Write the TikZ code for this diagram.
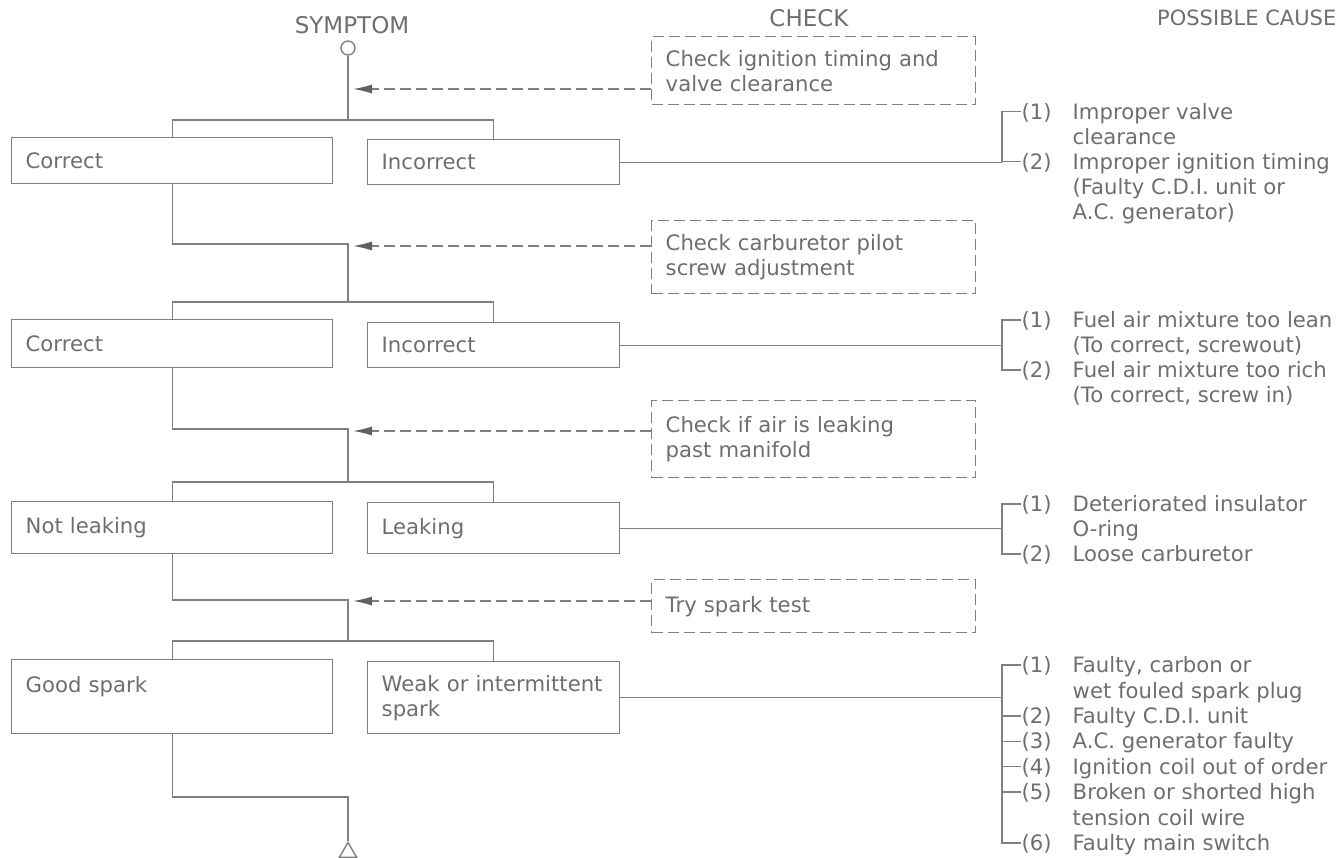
\documentclass[tikz,border=0pt]{standalone}
\usepackage{fontspec}
\setmainfont{DejaVu Sans}
\usetikzlibrary{arrows.meta,shapes.geometric}
\definecolor{ink}{gray}{0.50}
\definecolor{txt}{gray}{0.43}
\definecolor{tip}{gray}{0.38}
\newcommand\bodyfont{\fontsize{21.2}{25}\selectfont}
\newcommand\headfont{\fontsize{23}{27}\selectfont}
\hyphenpenalty=10000
\exhyphenpenalty=10000
\begin{document}
\begin{tikzpicture}[x=1pt,y=-1pt,line width=1.4pt,color=ink,
  every node/.style={text=txt,font=\bodyfont},
  sbox/.style={draw=ink,rectangle,inner xsep=14pt,inner ysep=0pt,align=left,anchor=north west},
  cbox/.style={draw=ink,rectangle,dash pattern=on 11pt off 5pt,inner xsep=14pt,inner ysep=0pt,align=left,anchor=north west,text width=296pt},
  ln/.style={inner sep=0pt,text height=15.4pt,text depth=0pt,anchor=west},
  head/.style={font=\headfont,inner sep=0pt},
  dconn/.style={draw=ink,dash pattern=on 11pt off 5pt,-{Latex[length=19pt,width=9pt,color=tip]}}
]
\useasboundingbox (0,0) rectangle (1341,857);

% headers
\node[head] (hs) at (352,25) {SYMPTOM};
\node[head] (hc) at (809,18) {CHECK};
\node[head,font=\fontsize{21}{25}\selectfont,anchor=east] (hp) at (1337,18) {POSSIBLE CAUSE};

% symptom start
\node[draw=ink,circle,minimum size=14pt,inner sep=0pt] (sym) at (348,48) {};

% coordinates on the main line
\coordinate (b1) at (348,120);
\coordinate (m1) at (348,244);
\coordinate (b2) at (348,302);
\coordinate (m2) at (348,429);
\coordinate (b3) at (348,482);
\coordinate (m3) at (348,600);
\coordinate (b4) at (348,641);
\coordinate (m4) at (348,797);

\coordinate (a1) at (353,89);
\coordinate (a2) at (353,246);
\coordinate (a3) at (353,431);
\coordinate (a4) at (353,601);

% result boxes
\node[sbox,text width=293pt,minimum height=46pt] (c1) at (11,137) {Correct};
\node[sbox,text width=224pt,minimum height=45pt] (i1) at (367,139) {Incorrect};
\node[sbox,text width=293pt,minimum height=48pt] (c2) at (11,319) {Correct};
\node[sbox,text width=224pt,minimum height=45pt] (i2) at (367,322) {Incorrect};
\node[sbox,text width=293pt,minimum height=52pt] (c3) at (11,501) {Not leaking};
\node[sbox,text width=224pt,minimum height=51pt] (i3) at (367,502) {Leaking};
\node[sbox,text width=293pt,minimum height=74pt] (c4) at (11,659) {Good spark\\\mbox{}};
\node[sbox,text width=224pt,minimum height=72pt] (i4) at (367,661) {Weak or intermittent\\spark};

% check boxes
\node[cbox,minimum height=68pt] (k1) at (651,36) {Check ignition timing and\\valve clearance};
\node[cbox,minimum height=73pt] (k2) at (651,220) {Check carburetor pilot\\screw adjustment};
\node[cbox,minimum height=77pt] (k3) at (651,400) {Check if air is leaking\\past manifold};
\node[cbox,minimum height=53pt] (k4) at (651,579) {Try spark test};

% end triangle
\node[draw=ink,regular polygon,regular polygon sides=3,minimum size=20pt,inner sep=0pt,anchor=corner 1] (endt) at (348,841) {};

% main flow
\draw (sym) -- (b1);
\draw (c1.north) |- (b1) -| (i1.north);
\draw (c1.south) |- (m1) -- (b2);
\draw (c2.north) |- (b2) -| (i2.north);
\draw (c2.south) |- (m2) -- (b3);
\draw (c3.north) |- (b3) -| (i3.north);
\draw (c3.south) |- (m3) -- (b4);
\draw (c4.north) |- (b4) -| (i4.north);
\draw (c4.south) |- (m4) -- (endt.corner 1);

% check arrows
\draw[dconn] (a1 -| k1.west) -- (a1);
\draw[dconn] (a2 -| k2.west) -- (a2);
\draw[dconn] (a3 -| k3.west) -- (a3);
\draw[dconn] (a4 -| k4.west) -- (a4);

% causes, section 1
\node[ln] (p11) at (1021,111.5) {(1)};
\node[ln] (t11) at (1072,111.5) {Improper valve};
\node[ln] (t12) at (1072,136.5) {clearance};
\node[ln] (p12) at (1021,161.5) {(2)};
\node[ln] (t13) at (1072,161.5) {Improper ignition timing};
\node[ln] (t14) at (1072,186.5) {(Faulty C.D.I. unit or};
\node[ln] (t15) at (1072,211.5) {A.C. generator)};
\coordinate (q1) at (1002,161.5);
\draw (p11.west) -| (q1) -- (p12.west);
\draw (i1.east) -- (i1.east -| q1);

% causes, section 2
\node[ln] (p21) at (1021,320) {(1)};
\node[ln] (t21) at (1072,320) {Fuel air mixture too lean};
\node[ln] (t22) at (1072,345) {(To correct, screwout)};
\node[ln] (p22) at (1021,370) {(2)};
\node[ln] (t23) at (1072,370) {Fuel air mixture too rich};
\node[ln] (t24) at (1072,395) {(To correct, screw in)};
\coordinate (q2) at (1002,370);
\draw (p21.west) -| (q2) -- (p22.west);
\draw (i2.east) -- (i2.east -| q2);

% causes, section 3
\node[ln] (p31) at (1021,504) {(1)};
\node[ln] (t31) at (1072,504) {Deteriorated insulator};
\node[ln] (t32) at (1072,529) {O-ring};
\node[ln] (p32) at (1021,554) {(2)};
\node[ln] (t33) at (1072,554) {Loose carburetor};
\coordinate (q3) at (1002,554);
\draw (p31.west) -| (q3) -- (p32.west);
\draw (i3.east) -- (i3.east -| q3);

% causes, section 4
\node[ln] (p41) at (1021,665) {(1)};
\node[ln] (t41) at (1072,665) {Faulty, carbon or};
\node[ln] (t42) at (1072,690.4) {wet fouled spark plug};
\node[ln] (p42) at (1021,715.8) {(2)};
\node[ln] (t43) at (1072,715.8) {Faulty C.D.I. unit};
\node[ln] (p43) at (1021,741.2) {(3)};
\node[ln] (t44) at (1072,741.2) {A.C. generator faulty};
\node[ln] (p44) at (1021,766.6) {(4)};
\node[ln] (t45) at (1072,766.6) {Ignition coil out of order};
\node[ln] (p45) at (1021,792) {(5)};
\node[ln] (t46) at (1072,792) {Broken or shorted high};
\node[ln] (t47) at (1072,817.4) {tension coil wire};
\node[ln] (p46) at (1021,842.8) {(6)};
\node[ln] (t48) at (1072,842.8) {Faulty main switch};
\coordinate (q4) at (1002,842.8);
\draw (p41.west) -| (q4) -- (p46.west);
\draw (p42.west) -- (p42.west -| q4);
\draw (p43.west) -- (p43.west -| q4);
\draw (p44.west) -- (p44.west -| q4);
\draw (p45.west) -- (p45.west -| q4);
\draw (i4.east) -- (i4.east -| q4);
\end{tikzpicture}
\end{document}
